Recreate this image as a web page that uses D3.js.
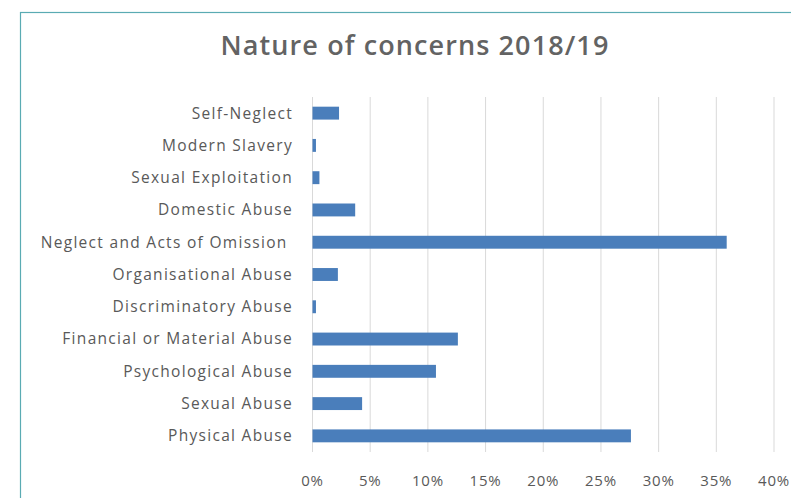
<!DOCTYPE html>
<html>
<head>
<meta charset="utf-8">
<script src="https://cdn.jsdelivr.net/npm/d3@7"></script>
<style>
  body { margin: 0; background: #fff; }
  svg { display: block; font-family: "Open Sans", Lato, sans-serif; }
  .cat { white-space: pre; }
</style>
</head>
<body>
<script>
let categories = ['Self-Neglect', 'Modern Slavery', 'Sexual Exploitation', 'Domestic Abuse',
  'Neglect and Acts of Omission ', 'Organisational Abuse', 'Discriminatory Abuse',
  'Financial or Material Abuse', 'Psychological Abuse', 'Sexual Abuse', 'Physical Abuse']
let values = [2.3, 0.3, 0.6, 3.7, 35.9, 2.2, 0.3, 12.6, 10.7, 4.3, 27.6]
let ticks = [0, 5, 10, 15, 20, 25, 30, 35, 40]
let title = 'Nature of concerns 2018/19'

let width = 791
let height = 498
let margin = { top: 97, bottom: 46, left: 312.5, right: 17 }

let svg = d3.select('body')
  .append('svg')
  .attr('width', width)
  .attr('height', height)

// frame of the original chart box
svg.append('rect')
  .attr('x', 20.5)
  .attr('y', 12.5)
  .attr('width', width)
  .attr('height', height)
  .attr('fill', 'none')
  .attr('stroke', '#5aabb3')
  .attr('stroke-width', 1.2)

svg.append('text')
  .attr('x', 415)
  .attr('y', 55)
  .attr('text-anchor', 'middle')
  .attr('fill', '#636363')
  .attr('font-size', 27)
  .attr('font-weight', 600)
  .attr('letter-spacing', 1.1)
  .text(title)

let x = d3.scaleLinear()
  .domain([0, 40])
  .range([margin.left, width - margin.right])

let y = d3.scaleBand()
  .domain(categories)
  .range([margin.top, height - margin.bottom])
  .paddingInner(0.6)
  .paddingOuter(0.3)

// gridlines
svg.append('g')
  .selectAll('line')
  .data(ticks)
  .enter()
  .append('line')
  .attr('x1', d => x(d))
  .attr('x2', d => x(d))
  .attr('y1', margin.top)
  .attr('y2', height - margin.bottom)
  .attr('stroke', '#d9d9d9')
  .attr('stroke-width', 1)

svg.append('g')
  .selectAll('rect')
  .data(values)
  .enter()
  .append('rect')
  .attr('x', x(0))
  .attr('y', (d, i) => y(categories[i]))
  .attr('width', d => x(d) - x(0))
  .attr('height', y.bandwidth())
  .attr('fill', '#4a7ebb')

// category labels
svg.append('g')
  .selectAll('text')
  .data(categories)
  .enter()
  .append('text')
  .attr('class', 'cat')
  .attr('x', 293)
  .attr('y', d => y(d) + y.bandwidth() / 2)
  .attr('dy', '0.35em')
  .attr('text-anchor', 'end')
  .attr('fill', '#595959')
  .attr('font-size', 15.5)
  .attr('letter-spacing', 1.3)
  .text(d => d)

// tick labels
svg.append('g')
  .selectAll('text')
  .data(ticks)
  .enter()
  .append('text')
  .attr('x', d => x(d))
  .attr('y', 486)
  .attr('text-anchor', 'middle')
  .attr('fill', '#595959')
  .attr('font-size', 15)
  .attr('letter-spacing', 0.8)
  .text(d => d + '%')
</script>
</body>
</html>
